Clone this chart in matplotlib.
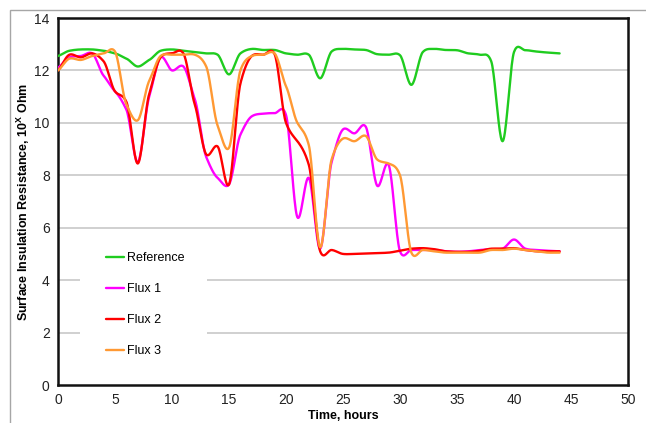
import numpy as np
import matplotlib
matplotlib.use("Agg")
import matplotlib.pyplot as plt
from matplotlib.patches import Rectangle

plt.rcParams['font.family'] = ['Liberation Sans', 'DejaVu Sans']
plt.rcParams['mathtext.fontset'] = 'custom'
plt.rcParams['mathtext.rm'] = 'Liberation Sans'
plt.rcParams['mathtext.bf'] = 'Liberation Sans:bold'

hours = list(range(0, 45))

reference = [12.55, 12.75, 12.8, 12.8, 12.75, 12.65, 12.45, 12.15, 12.4, 12.75,
             12.8, 12.75, 12.7, 12.65, 12.6, 11.85, 12.65, 12.82, 12.78, 12.78,
             12.65, 12.6, 12.6, 11.7, 12.72, 12.82, 12.8, 12.78, 12.62, 12.6,
             12.58, 11.45, 12.7, 12.82, 12.78, 12.77, 12.65, 12.6, 12.35, 9.3,
             12.7, 12.77, 12.72, 12.68, 12.65]

flux1 = [12.1, 12.5, 12.55, 12.65, 11.8, 11.2, 10.5, 8.5, 11.0, 12.5,
         12.0, 12.15, 10.9, 8.7, 7.9, 7.65, 9.55, 10.25, 10.35, 10.37,
         10.3, 6.4, 7.9, 5.2, 8.5, 9.75, 9.6, 9.85, 7.6, 8.4,
         5.1, 5.15, 5.15, 5.15, 5.1, 5.08, 5.1, 5.15, 5.18, 5.2,
         5.55, 5.2, 5.15, 5.12, 5.1]

flux2 = [12.0, 12.6, 12.5, 12.65, 12.35, 11.2, 10.8, 8.45, 11.1, 12.5,
         12.65, 12.65, 10.7, 8.8, 9.1, 7.65, 11.5, 12.55, 12.6, 12.62,
         10.0, 9.3, 8.4, 5.1, 5.15, 5.0, 5.0, 5.02, 5.03, 5.05,
         5.12, 5.2, 5.22, 5.18, 5.1, 5.08, 5.08, 5.12, 5.2, 5.2,
         5.22, 5.15, 5.1, 5.1, 5.1]

flux3 = [12.0, 12.45, 12.4, 12.55, 12.65, 12.72, 10.7, 10.1, 11.6, 12.55,
         12.6, 12.6, 12.6, 12.15, 9.9, 9.05, 12.0, 12.55, 12.6, 12.65,
         11.4, 10.0, 9.15, 5.25, 8.6, 9.4, 9.3, 9.5, 8.6, 8.45,
         8.0, 5.05, 5.15, 5.1, 5.05, 5.05, 5.05, 5.05, 5.15, 5.15,
         5.2, 5.15, 5.1, 5.05, 5.05]

series_names = ["Reference", "Flux 1", "Flux 2", "Flux 3"]
series_colors = ["#1FCC1F", "#FF00FF", "#FF0000", "#FF9933"]

x_ticks = [0, 5, 10, 15, 20, 25, 30, 35, 40, 45, 50]
y_ticks = [0, 2, 4, 6, 8, 10, 12, 14]


def smooth(x, y, n=20, tension=0.3):
    """Cardinal-spline smoothing (like Excel's smoothed line)."""
    x = np.asarray(x, float)
    y = np.asarray(y, float)
    m = len(x)
    tang = np.zeros(m)
    for i in range(m):
        a = y[i - 1] if i > 0 else y[i]
        b = y[i + 1] if i < m - 1 else y[i]
        span = (2 if 0 < i < m - 1 else 1)
        tang[i] = (1 - tension) * (b - a) / span
    xs, ys = [], []
    t = np.linspace(0, 1, n, endpoint=False)
    h00 = 2 * t ** 3 - 3 * t ** 2 + 1
    h10 = t ** 3 - 2 * t ** 2 + t
    h01 = -2 * t ** 3 + 3 * t ** 2
    h11 = t ** 3 - t ** 2
    for i in range(m - 1):
        yy = h00 * y[i] + h10 * tang[i] + h01 * y[i + 1] + h11 * tang[i + 1]
        xx = x[i] + (x[i + 1] - x[i]) * t
        xs.append(xx)
        ys.append(yy)
    xs.append([x[-1]])
    ys.append([y[-1]])
    return np.concatenate(xs), np.concatenate(ys)


fig = plt.figure(figsize=(6.46, 4.23), dpi=100)
ax = fig.add_axes([58 / 646, 38 / 423, 570 / 646, 367 / 423])

# outer chart border (left and top visible)
fig.patches.append(Rectangle((10 / 646, -0.2), 2.0, 0.2 + 1 - 10 / 423,
                             transform=fig.transFigure, fill=False,
                             edgecolor="#A6A6A6", linewidth=1.0))

for yv in y_ticks[1:-1]:
    ax.axhline(yv, color="#C8C8C8", linewidth=1.2, zorder=0.5)

for name, vals, col in zip(series_names, [reference, flux1, flux2, flux3], series_colors):
    sx, sy = smooth(hours, vals)
    ax.plot(sx, sy, color=col, linewidth=1.7, label=name, zorder=3,
            solid_capstyle='round')

ax.set_xlim(0, 50)
ax.set_ylim(0, 14)
ax.set_xticks(x_ticks)
ax.set_yticks(y_ticks)
ax.tick_params(axis='both', length=0, labelsize=10, colors='#222222', pad=6)
for s in ax.spines.values():
    s.set_color('#111111')
    s.set_linewidth(1.8)

ax.set_xlabel("Time, hours", fontsize=9, fontweight='bold')
ax.set_ylabel(r"Surface Insulation Resistance, 10$^\mathbf{X}$ Ohm",
              fontsize=9, fontweight='bold')
ax.xaxis.set_label_coords(0.5, -0.068)
ax.yaxis.set_label_coords(-0.045, 0.5)

# white box behind legend
ax.add_patch(Rectangle(((80 - 58) / 570, (385 - 372) / 367), 127 / 570, 140 / 367,
                       transform=ax.transAxes, facecolor='white', edgecolor='none',
                       zorder=1))
leg = ax.legend(loc='upper left', bbox_to_anchor=((106 - 58) / 570, (385 - 252) / 367),
                frameon=False, fontsize=9, handlelength=1.45, handletextpad=0.2,
                labelspacing=1.53, borderpad=0, borderaxespad=0)

fig.savefig("out.png", dpi=100)
